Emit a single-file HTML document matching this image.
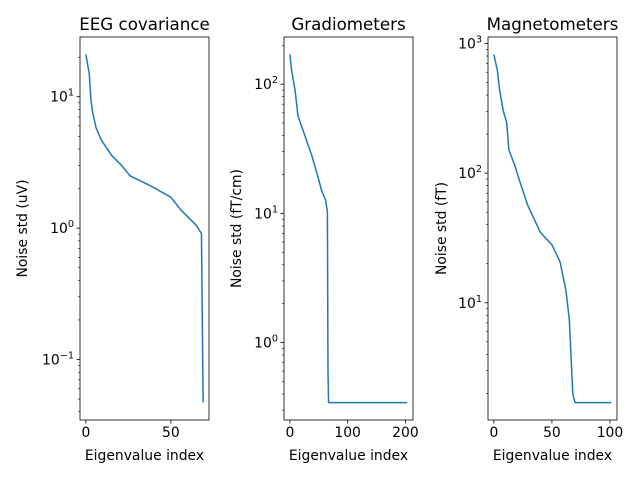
<!DOCTYPE html>
<html><head><meta charset="utf-8"><style>
html,body{margin:0;padding:0;background:#fff;}
svg text{font-family:"DejaVu Sans","Liberation Sans",sans-serif;fill:#000;}
</style></head><body>
<svg id="fig" width="640" height="480" viewBox="0 0 640 480" xmlns="http://www.w3.org/2000/svg"></svg>
<script>
const eegIdx=[0,2,3,4,6,9,15,21,26,38,50,56,65,68,69];
const eegVal=[21,15,9.4,7.6,5.8,4.7,3.6,3.0,2.5,2.1,1.72,1.37,1.05,0.91,0.047];
const gradIdx=[0,3,9,14,26,38,48,55,62,65,66,67,203];
const gradVal=[170,128,90,57,40,28,19.6,15,12.6,10.2,0.6,0.343,0.343];
const magIdx=[0,3,5,8,11,13,18,22,29,40,50,57,62,65,68,70,101];
const magVal=[823,620,435,305,246,150,115,88,57,35,28,20.7,12.6,7.4,1.97,1.7,1.7];
const eegXTicks=[0,50];
const gradXTicks=[0,100,200];
const magXTicks=[0,50,100];

const NS="http://www.w3.org/2000/svg";
const svg=document.getElementById('fig');
function mk(tag,attrs,parent){const e=document.createElementNS(NS,tag);for(const k in attrs)e.setAttribute(k,attrs[k]);(parent||svg).appendChild(e);return e;}

function panel(key,title,ylabel,xs,ys,xticks,left,right,ylabX){
  const top=37,bottom=420;
  const g=mk('g',{});
  
  
  const xmin=Math.min(...xs),xmax=Math.max(...xs),xm=(xmax-xmin)*0.05;
  const x0=xmin-xm,x1=xmax+xm;
  const ly=ys.map(Math.log10);const lmin=Math.min(...ly),lmax=Math.max(...ly),lm=(lmax-lmin)*0.05;
  const y0=lmin-lm,y1=lmax+lm;
  const X=v=>left+(v-x0)/(x1-x0)*(right-left);
  const Y=v=>bottom-(Math.log10(v)-y0)/(y1-y0)*(bottom-top);
  // line
  const d=xs.map((v,i)=>(i?'L':'M')+X(v).toFixed(2)+','+Y(ys[i]).toFixed(2)).join('');
  const p=mk('path',{d:d,fill:'none',stroke:'#1f77b4','stroke-width':1.5,'stroke-linejoin':'round'},g);
  
  
  // frame
  const r=mk('rect',{x:left,y:top,width:right-left,height:bottom-top,fill:'none',stroke:'#000','stroke-width':0.8},g);
  
  
  // x ticks
  xticks.forEach(t=>{
    const x=X(t);
    mk('line',{x1:x,x2:x,y1:bottom,y2:bottom+3.5,stroke:'#000','stroke-width':0.8},g);
    const tx=mk('text',{x:x,y:bottom+17,'text-anchor':'middle','font-size':'13.9px'},g);
    tx.textContent=t;
    
    
  });
  // y ticks
  for(let e=Math.floor(y0);e<=Math.ceil(y1);e++){
    for(let m=1;m<10;m++){
      const lv=e+Math.log10(m);
      if(lv<y0||lv>y1)continue;
      const y=bottom-(lv-y0)/(y1-y0)*(bottom-top);
      mk('line',{x1:left,x2:left-(m==1?3.5:2),y1:y,y2:y,stroke:'#000','stroke-width':m==1?0.8:0.6},g);
      if(m==1){
        const tx=mk('text',{x:left-6,y:y+5,'text-anchor':'end','font-size':'13.9px'},g);
        
        
        const a=mk('tspan',{},tx);a.textContent='10';
        const b=mk('tspan',{dy:-6,'font-size':'9.7px'},tx);b.textContent=e<0?'\u2212'+(-e):String(e);
      }
    }
  }
  const tt=mk('text',{x:(left+right)/2,y:top-7,'text-anchor':'middle','font-size':'16.7px'},g);
  tt.textContent=title;
  
  
  const xl=mk('text',{x:(left+right)/2,y:bottom+40,'text-anchor':'middle','font-size':'13.9px'},g);
  xl.textContent='Eigenvalue index';
  
  
  const cy=(top+bottom)/2;
  const yl=mk('text',{x:ylabX,y:cy,'text-anchor':'middle','font-size':'13.9px',transform:'rotate(-90 '+ylabX+' '+cy+')'},g);
  yl.textContent=ylabel;
  
  
}
panel('eeg','EEG covariance','Noise std (uV)',eegIdx,eegVal,eegXTicks,80,209,27);
panel('grad','Gradiometers','Noise std (fT/cm)',gradIdx,gradVal,gradXTicks,284,413,241);
panel('mag','Magnetometers','Noise std (fT)',magIdx,magVal,magXTicks,488,617,446);
</script>
</body></html>
